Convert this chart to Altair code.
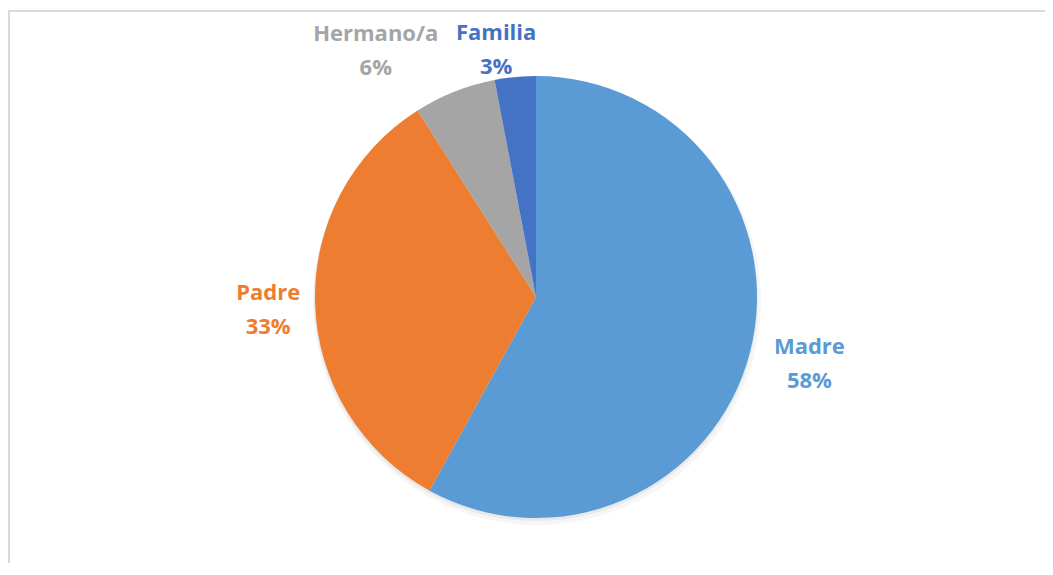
import altair as alt
import pandas as pd

# Data
categories = ["Madre", "Padre", "Hermano/a", "Familia"]
percentages = [58, 33, 6, 3]
colors = ["#5B9BD5", "#ED7D31", "#A5A5A5", "#4472C4"]

df = pd.DataFrame({
    "cat": categories,
    "pct": percentages,
    "order": list(range(len(categories))),
})
df["label"] = df["cat"] + "\n" + df["pct"].astype(str) + "%"

# Styles
CX, CY, R = 528, 289, 221
LABEL_R = 275
nudges = {"Madre": (7, -18), "Padre": (7, -13), "Hermano/a": (-59, -7), "Familia": (-14, 10)}

color = alt.Color("cat:N", scale=alt.Scale(domain=categories, range=colors), legend=None)
theta = alt.Theta("pct:Q", stack=True)
order = alt.Order("order:Q")

base = alt.Chart(df)

shadow1 = base.mark_arc(x=CX + 1, y=CY + 4, outerRadius=R + 3, color="#000000", opacity=0.035).encode(
    theta=theta, order=order)
shadow2 = base.mark_arc(x=CX, y=CY + 2, outerRadius=R + 1, color="#000000", opacity=0.05).encode(
    theta=theta, order=order)

pie = base.mark_arc(x=CX, y=CY, outerRadius=R).encode(
    theta=theta, color=color, order=order)

layers = [shadow1, shadow2, pie]
for c in categories:
    dx, dy = nudges[c]
    layers.append(
        base.mark_text(x=CX, y=CY, radius=LABEL_R, dx=dx, dy=dy, font="Open Sans", fontWeight="bold",
                       fontSize=22, lineHeight=34, lineBreak="\n", align="center", baseline="middle").encode(
            theta=theta, order=order, color=color,
            text=alt.condition(alt.datum.cat == c, alt.Text("label:N"), alt.value("")),
        )
    )

frame_top = base.mark_rule(color="#d9d9d9", strokeWidth=2).encode(
    x=alt.value(0), x2=alt.value(1045), y=alt.value(3))
frame_left = base.mark_rule(color="#d9d9d9", strokeWidth=2).encode(
    x=alt.value(1), y=alt.value(2), y2=alt.value(560))
layers += [frame_top, frame_left]

chart = alt.layer(*layers).properties(
    width=1037, height=555, padding=0,
    autosize=alt.AutoSizeParams(type="none"),
).configure_view(stroke=None)

chart.save("out.html", embed_options={"renderer": "svg", "actions": False})
